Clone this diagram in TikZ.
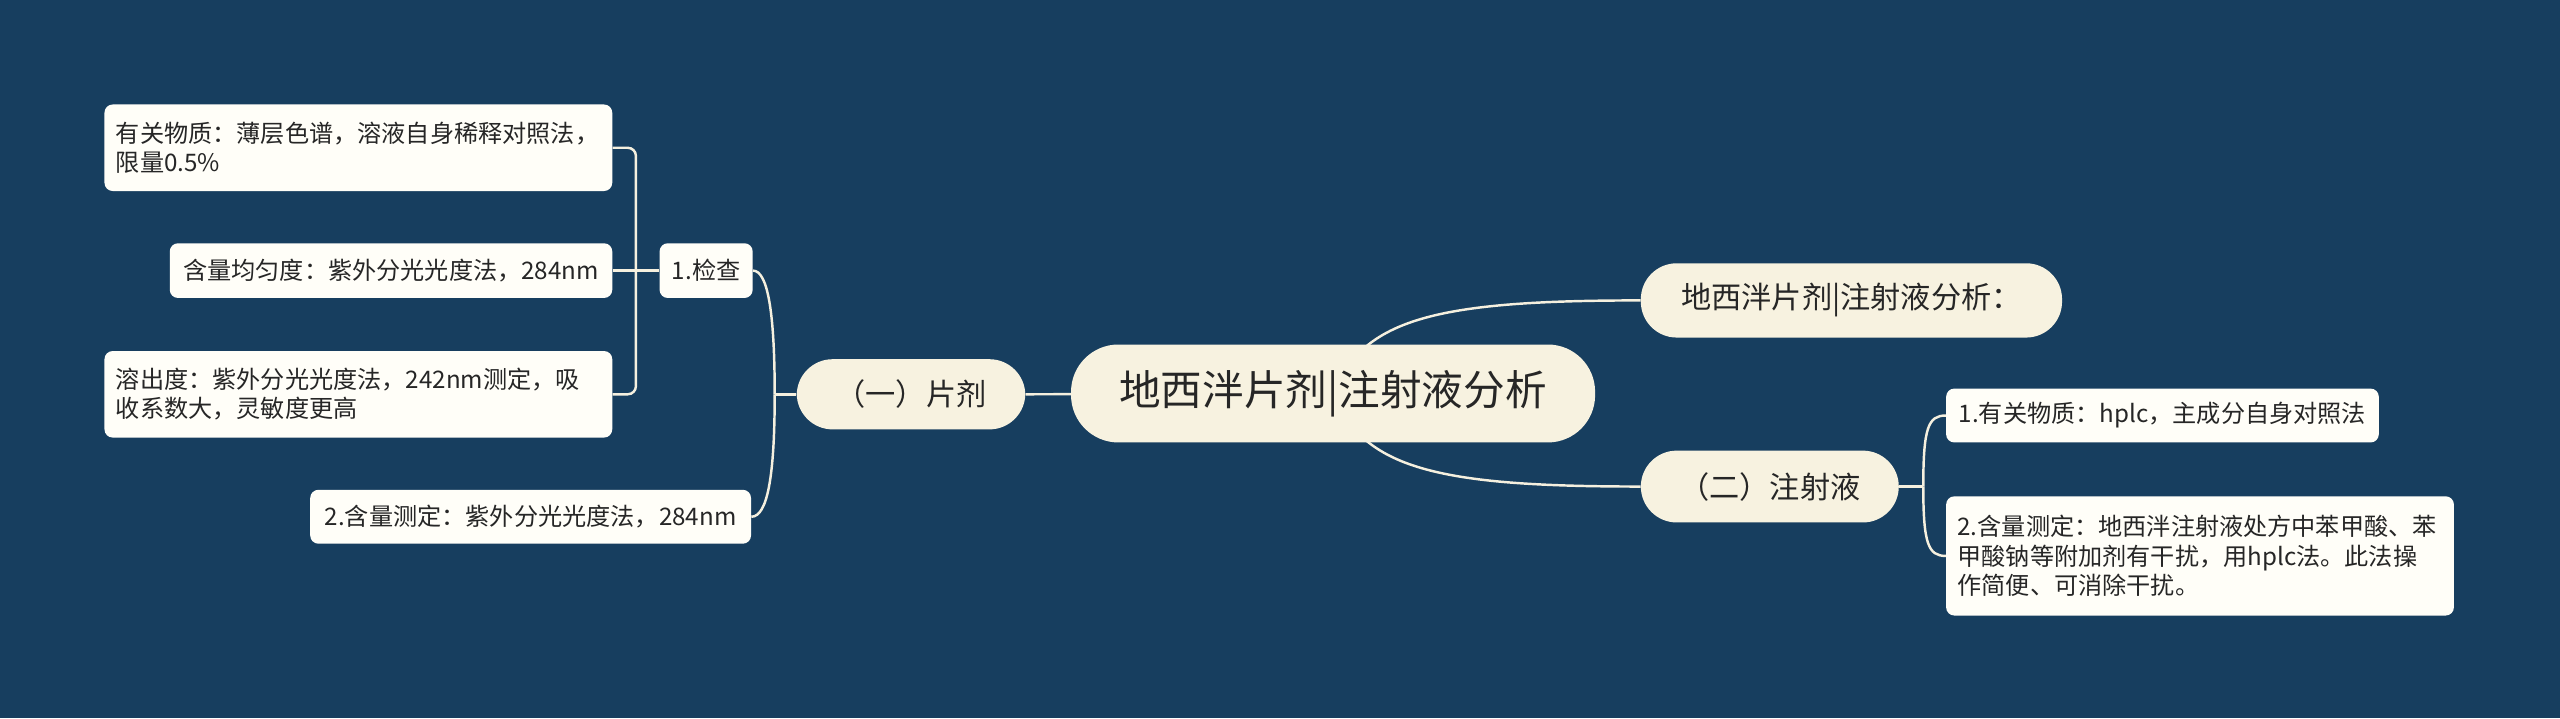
\documentclass[tikz,border=0pt]{standalone}
\usepackage{fontspec}
\setmainfont{Noto Sans CJK SC}
\usetikzlibrary{calc}
\pgfdeclarelayer{back}
\pgfdeclarelayer{lines}
\pgfsetlayers{back,lines,main}
\definecolor{bgblue}{HTML}{173E5F}
\definecolor{cream}{HTML}{F7F2E0}
\definecolor{leafwhite}{HTML}{FFFEF8}
\definecolor{txt}{HTML}{262626}
\definecolor{linec}{HTML}{F5F0DF}
\tikzset{
  box/.style={inner sep=0pt, text=txt, font=\fontsize{14.8}{18}\selectfont, align=left},
  leaf/.style={box, fill=leafwhite, rounded corners=5pt},
  multi/.style={text width=297pt},
  topic/.style={inner sep=0pt, text=txt, fill=cream, rounded corners=22pt, font=\fontsize{18.5}{22}\selectfont},
  root/.style={inner sep=0pt, text=txt, fill=cream, rounded corners=29pt, font=\fontsize{25.5}{30}\selectfont},
  conn/.style={draw=linec, line width=1.5pt}
}
\begin{document}
\begin{tikzpicture}[x=1pt,y=-1pt]
\begin{pgfonlayer}{back}
\fill[bgblue] (0,0) rectangle (1568,440);
\end{pgfonlayer}
\useasboundingbox (0,0) rectangle (1568,440);
% nodes
\node[root, minimum width=321pt, minimum height=60pt] (main) at (816.5,241) {地西泮片剂|注射液分析};
\node[topic, minimum width=140pt, minimum height=43pt] (pian) at (558,241.5) {（一）片剂};
\node[topic, minimum width=258pt, minimum height=45.5pt] (d1) at (1134,184) {地西泮片剂|注射液分析：};
\node[topic, minimum width=158pt, minimum height=44pt] (inj) at (1084,298) {（二）注射液};
\node[leaf, minimum width=57pt, minimum height=33.5pt] (jc) at (432.5,165.75) {1.检查};
\node[leaf, minimum width=270pt, minimum height=33pt] (D) at (325,316.5) {2.含量测定：紫外分光光度法，284nm};
\node[leaf, multi, minimum width=311pt, minimum height=53pt] (A) at (219.5,90.5) {有关物质：薄层色谱，溶液自身稀释对照法，\\限量0.5\%};
\node[leaf, minimum width=271pt, minimum height=33.5pt] (B) at (239.5,165.75) {含量均匀度：紫外分光光度法，284nm};
\node[leaf, multi, minimum width=311pt, minimum height=53pt] (C) at (219.5,241.5) {溶出度：紫外分光光度法，242nm测定，吸\\收系数大，灵敏度更高};
\node[leaf, minimum width=265pt, minimum height=33pt] (e1) at (1324.5,254.5) {1.有关物质：hplc，主成分自身对照法};
\node[leaf, multi, minimum width=311pt, minimum height=73pt] (e2) at (1347.5,340.5) {2.含量测定：地西泮注射液处方中苯甲酸、苯\\甲酸钠等附加剂有干扰，用hplc法。此法操\\作简便、可消除干扰。};
\coordinate (jp) at (474.5,241.5);
\coordinate (jx) at (389.5,165.75);
\coordinate (ji) at (1178,298);
% connectors
\begin{pgfonlayer}{lines}
\draw[conn] (main.center) .. controls (835,195) and (880,184) .. (d1.west);
\draw[conn] (main.center) .. controls (835,287) and (880,298) .. (inj.west);
\draw[conn] (main.center) -- (pian.east);
\draw[conn] (pian.west) -- (jp);
\draw[conn] (jp) .. controls (474.5,190) and (470,165.75) .. (jc.east);
\draw[conn] (jp) .. controls (474.5,292) and (470,316.5) .. (D.east);
\draw[conn, rounded corners=5pt] (A.east) -| (jx) |- (C.east);
\draw[conn] (B.east) -- (jc.west);
\draw[conn] (inj.east) -- (ji);
\draw[conn] (ji) .. controls (1178,262) and (1181,254.5) .. (e1.west);
\draw[conn] (ji) .. controls (1178,333) and (1181,340.5) .. (e2.west);
\end{pgfonlayer}
\end{tikzpicture}
\end{document}
